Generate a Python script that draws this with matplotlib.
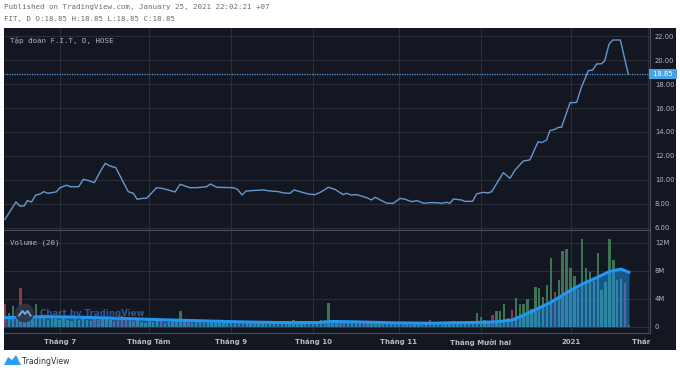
import matplotlib
matplotlib.use('Agg')
import matplotlib.pyplot as plt
from matplotlib.patches import Ellipse, Polygon
from matplotlib.transforms import Bbox, blended_transform_factory

# ---------------- data ----------------
# price polyline: bar index -> close price
price_x = [0, 2.8, 3.8, 4.9, 5.7, 6.8, 7.9, 9.0, 10.0, 10.9, 12.4, 13.1, 14.1, 15.8, 16.8, 18.9,
           20.1, 21.5, 22.9, 24.4, 25.7, 26.9, 28.4, 31.6, 32.9, 33.9, 35.3, 36.3, 38.9, 40.6,
           43.6, 44.9, 47.4, 49.2, 51.7, 52.7, 54.3, 58.5, 59.6, 60.8, 61.8, 66.2, 67.9, 70.1,
           71.4, 73.1, 74.1, 75.6, 77.8, 79.5, 81.2, 82.9, 84.6, 86.7, 87.6, 88.7, 90.2, 92.7,
           94.0, 94.9, 97.9, 99.6, 101.3, 102.6, 104.3, 105.6, 107.4, 109.0, 110.3, 112.0, 113.3,
           114.1, 115.0, 117.1, 117.9, 119.9, 120.9, 122.6, 123.9, 124.8, 127.8, 129.5, 130.8,
           132.9, 134.6, 136.7, 137.6, 138.9, 139.7, 141.0, 141.9, 142.7, 144.9, 146.6, 147.7,
           149.6, 150.7, 151.7, 153.0, 153.8, 154.9, 155.9, 157.8, 159.8]
price_y = [6.72, 8.17, 7.83, 7.83, 8.28, 8.17, 8.75, 8.83, 9.03, 8.89, 8.97, 9.00, 9.36, 9.56, 9.44, 9.44,
           10.06, 9.94, 9.78, 10.69, 11.39, 11.17, 11.03, 9.03, 8.89, 8.39, 8.47, 8.47, 9.36, 9.28,
           9.00, 9.64, 9.36, 9.36, 9.44, 9.67, 9.39, 9.36, 9.22, 8.75, 9.08, 9.17, 9.08, 9.03,
           8.92, 8.89, 9.17, 9.03, 8.83, 8.78, 9.03, 9.39, 9.22, 8.78, 8.89, 8.75, 8.78, 8.53,
           8.33, 8.56, 8.06, 8.06, 8.47, 8.39, 8.19, 8.28, 8.06, 8.11, 8.11, 8.06, 8.14,
           8.06, 8.42, 8.33, 8.22, 8.22, 8.83, 8.97, 8.92, 9.03, 10.61, 10.14, 10.83,
           11.58, 11.67, 13.19, 13.11, 13.33, 14.11, 14.22, 14.39, 14.39, 16.44, 16.47, 17.64,
           19.11, 19.17, 19.67, 19.69, 19.94, 21.33, 21.67, 21.67, 18.85]
last_price = 18.85

# daily volume in millions, one value per bar
volume = [3.2, 1.9, 3.0, 1.2, 5.6, 1.5, 1.0, 1.3, 3.2, 1.4,
          1.2, 1.0, 1.5, 1.1, 0.9, 1.3, 1.0, 0.8, 1.1, 0.9,
          1.4, 0.9, 0.8, 1.2, 1.0, 1.3, 1.1, 0.9, 0.8, 1.0,
          1.6, 1.0, 0.9, 0.8, 1.1, 0.7, 0.6, 0.8, 0.7, 1.0,
          0.8, 0.6, 0.7, 0.8, 0.9, 2.2, 0.8, 0.7, 0.6, 0.7,
          0.8, 0.6, 0.9, 0.7, 0.6, 0.5, 0.6, 0.7, 0.6, 0.5,
          0.8, 0.6, 0.5, 0.6, 0.5, 0.6, 0.5, 0.4, 0.5, 0.6,
          0.5, 0.4, 0.5, 0.6, 0.9, 0.5, 0.4, 0.5, 0.6, 0.5,
          0.4, 0.9, 1.0, 3.4, 0.7, 0.6, 0.5, 0.6, 0.5, 0.7,
          0.6, 0.5, 0.6, 0.5, 0.7, 0.6, 0.5, 0.4, 0.5, 0.4,
          0.5, 0.4, 0.5, 0.4, 0.3, 0.4, 0.5, 0.4, 0.5, 1.0,
          0.5, 0.4, 0.5, 0.6, 0.5, 0.85, 0.5, 0.4, 0.6, 0.5,
          0.7, 1.9, 1.4, 0.9, 0.7, 1.65, 2.3, 2.3, 3.3, 1.3,
          2.45, 4.15, 3.2, 3.2, 4.0, 2.6, 5.75, 5.55, 4.3, 5.9,
          9.8, 4.95, 6.7, 10.9, 11.1, 8.4, 7.2, 5.4, 12.6, 8.4,
          7.8, 6.6, 10.6, 5.2, 6.35, 12.6, 9.5, 6.7, 6.9, 6.2,
          0.2]
down_bars = [0, 4, 23, 24, 28, 29, 30, 31, 33, 40, 47, 60, 61, 70, 78, 86, 87, 92, 93, 97,
             103, 104, 107, 109, 125, 130, 141, 159, 160]

# 20-bar volume average (millions)
ma_x = [0, 10, 20, 30, 40, 50, 60, 70, 80, 84, 90, 100, 110, 113, 120, 126, 130, 133, 137,
        140, 145, 148, 152, 155, 158, 160]
ma_y = [1.3, 1.45, 1.35, 1.2, 1.0, 0.85, 0.7, 0.6, 0.6, 0.75, 0.7, 0.55, 0.5, 0.55, 0.6, 0.7,
        0.95, 1.65, 2.7, 3.5, 5.2, 6.1, 7.1, 7.9, 8.25, 7.8]

month_pos = [14.1, 36.9, 57.9, 79.0, 101.0, 122.0, 145.1, 165.0]
month_labels = ['Tháng 7', 'Tháng Tám', 'Tháng 9', 'Tháng 10', 'Tháng 11',
                'Tháng Mười hai', '2021', 'Tháng 2']
price_ticks = [6, 8, 10, 12, 14, 16, 18, 20, 22]
vol_ticks = [0, 4, 8, 12]
vol_labels = ['0', '4M', '8M', '12M']

# ---------------- figure ----------------
W, H = 680, 373
fig = plt.figure(figsize=(6.8, 3.73), dpi=100, facecolor='white')

def fx(px):
    return px / W

def fy(py):
    return 1 - py / H

BG = '#131722'
GRID = '#2a2e39'
EDGE = '#4a4f5c'
TXT = '#b8bbc4'
MONO = 'DejaVu Sans Mono'

# dark chart background
bgax = fig.add_axes([fx(4), fy(350), fx(676) - fx(4), fy(28) - fy(350)], zorder=0)
bgax.set_facecolor(BG)
bgax.set_xticks([])
bgax.set_yticks([])
for s in bgax.spines.values():
    s.set_visible(False)

xmin, xmax = -0.26, 165.4

ax = fig.add_axes([fx(4), fy(230), fx(650) - fx(4), fy(28) - fy(230)], zorder=1)
axv = fig.add_axes([fx(4), fy(333), fx(650) - fx(4), fy(231) - fy(333)], zorder=1)

for a in (ax, axv):
    a.set_facecolor(BG)
    a.set_xlim(xmin, xmax)
    for s in ('top', 'left'):
        a.spines[s].set_visible(False)
    for s in ('right', 'bottom'):
        a.spines[s].set_color(EDGE)
        a.spines[s].set_linewidth(0.8)
    a.set_xticks(month_pos)
    a.set_xticklabels([])
    a.tick_params(axis='x', length=0)
    a.yaxis.tick_right()
    a.tick_params(axis='y', length=0, pad=3.5, labelsize=4.9, labelcolor=TXT)
    a.grid(True, color=GRID, linewidth=0.8)
    a.set_axisbelow(True)

# price panel
ax.set_ylim(5.83, 22.67)
ax.set_yticks(price_ticks)
ax.set_yticklabels(['%.2f' % v for v in price_ticks])
ax.plot(price_x, price_y, color='#6697cf', linewidth=1.0, zorder=3)
ax.axhline(last_price, color='#5c9ad8', linewidth=0.9, linestyle=(0, (1, 1)), zorder=2)
ax.text(1.002, last_price, ' %.2f ' % last_price,
        transform=blended_transform_factory(ax.transAxes, ax.transData),
        ha='left', va='center', fontsize=4.9, color='white', clip_on=False,
        bbox=dict(boxstyle='square,pad=0.3', facecolor='#4aa3e6', edgecolor='none'))
ax.text(6 / 646, 1 - 12 / 202, 'Tập đoàn F.I.T, D, HOSE', transform=ax.transAxes,
        fontsize=5.4, family=MONO, color='#b2b5be', ha='left', va='center')

# volume panel
axv.set_ylim(-0.9, 13.7)
axv.set_yticks(vol_ticks)
axv.set_yticklabels(vol_labels)
idx = list(range(len(volume)))
cols = ['#8a3a48' if i in down_bars else '#3d7456' for i in idx]
axv.bar(idx, volume, width=0.62, color=cols, zorder=2)
axv.fill_between(ma_x, 0, ma_y, color='#2196f3', alpha=0.5, linewidth=0, zorder=3)
axv.plot(ma_x, ma_y, color='#2196f3', linewidth=2.2, zorder=4)
axv.text(6 / 646, 1 - 12 / 102, 'Volume (20)', transform=axv.transAxes,
         fontsize=5.4, family=MONO, color='#b2b5be', ha='left', va='center')

# watermark
fig.patches.append(Ellipse((fx(24.5), fy(313)), 19 / W, 19 / H, transform=fig.transFigure,
                           facecolor='#30343f', edgecolor='none', alpha=0.9, zorder=5))
fig.lines.append(plt.Line2D([fx(19), fx(22.5), fx(25), fx(27.5), fx(30.5)],
                            [fy(315.5), fy(311), fy(314), fy(311), fy(315.5)],
                            transform=fig.transFigure, color='#6fa8e6', linewidth=1.4, zorder=6))
fig.text(fx(40), fy(313), 'Chart by TradingView', fontsize=6.2, color='#2f6fc9', alpha=0.75,
         ha='left', va='center', weight='bold', zorder=6)

# month labels below volume panel, clipped at the price-axis edge
trans = blended_transform_factory(axv.transData, fig.transFigure)
clip = Bbox.from_extents(4, 0, 650, H)
for pos, lab in zip(month_pos, month_labels):
    t = axv.text(pos, fy(342), lab, transform=trans, ha='center', va='center',
                 fontsize=5.0, color=TXT, weight='bold')
    t.set_clip_on(True)
    t.set_clip_box(clip)

# header texts
fig.text(fx(4), fy(7), 'Published on TradingView.com, January 25, 2021 22:02:21 +07',
         fontsize=5.4, family=MONO, color='#6d6d6d', ha='left', va='center')
fig.text(fx(4), fy(19), 'FIT, D O:18.85 H:18.85 L:18.85 C:18.85',
         fontsize=5.4, family=MONO, color='#6d6d6d', ha='left', va='center')

# bottom logo
fig.patches.append(Polygon([(fx(4), fy(365)), (fx(8), fy(357)), (fx(12), fy(360)), (fx(16), fy(355)),
                            (fx(21), fy(365))], closed=True, transform=fig.transFigure,
                           facecolor='#2e9ef4', edgecolor='none'))
fig.text(fx(22), fy(361), 'TradingView', fontsize=5.6, color='#333333', ha='left', va='center')

fig.savefig('out.png', dpi=100, facecolor='white')
